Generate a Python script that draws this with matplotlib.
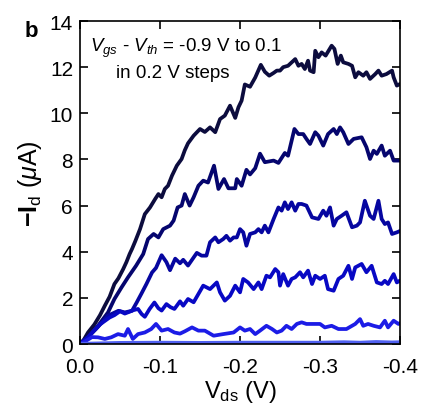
import matplotlib
matplotlib.use("Agg")
import matplotlib.pyplot as plt

plt.rcParams['font.family'] = ['Liberation Sans', 'DejaVu Sans']
plt.rcParams['mathtext.fontset'] = 'custom'
plt.rcParams['mathtext.rm'] = 'Liberation Sans'
plt.rcParams['mathtext.it'] = 'Liberation Sans:italic'
plt.rcParams['mathtext.bf'] = 'Liberation Sans:bold'
plt.rcParams['axes.unicode_minus'] = False

# ---- data: V_ds (V) and -I_d (uA) for each gate step ----
vA = [0, -0.005, -0.01, -0.018, -0.025, -0.031, -0.037, -0.043, -0.048, -0.054, -0.058, -0.062, -0.065,
      -0.069, -0.075, -0.081, -0.0875, -0.094, -0.098, -0.102, -0.106, -0.110, -0.115, -0.121, -0.127,
      -0.131, -0.135, -0.142, -0.150, -0.156, -0.1625, -0.169, -0.175, -0.181, -0.1875, -0.194, -0.198,
      -0.202, -0.206, -0.2125, -0.219, -0.226, -0.231, -0.2365, -0.242, -0.246, -0.25, -0.254, -0.26,
      -0.269, -0.273, -0.277, -0.281, -0.285, -0.2875, -0.292, -0.294, -0.298, -0.302, -0.307, -0.3145,
      -0.318, -0.322, -0.326, -0.329, -0.3355, -0.34, -0.344, -0.348, -0.354, -0.358, -0.3625, -0.369,
      -0.373, -0.377, -0.383, -0.39, -0.392, -0.396, -0.4]
iA = [0, 0.2, 0.5, 0.85, 1.25, 1.66, 2.05, 2.6, 2.85, 3.25, 3.55, 3.9, 4.12,
      4.45, 4.98, 5.63, 5.92, 6.29, 6.5, 6.36, 6.72, 6.86, 7.3, 7.73, 8.02,
      8.4, 8.7, 9.03, 9.32, 9.19, 9.39, 9.18, 9.75, 9.9, 10.33, 9.8, 10.26,
      10.55, 11.25, 11.15, 11.55, 12.1, 11.8, 11.63, 11.75, 11.85, 11.85, 12.0, 12.06,
      12.35, 12.06, 12.14, 11.92, 12.28, 11.85, 11.78, 12.71, 12.43, 12.64, 12.5, 12.93,
      12.79, 12.14, 12.5, 12.21, 12.14, 12.06, 11.56, 11.78, 11.63, 11.78, 11.49, 11.7,
      11.85, 11.63, 11.7, 11.85, 11.56, 11.2, 11.27]

vB = [0, -0.01, -0.0225, -0.035, -0.043, -0.052, -0.06, -0.07, -0.079, -0.085, -0.092, -0.098, -0.104,
      -0.1125, -0.117, -0.122, -0.127, -0.131, -0.137, -0.142, -0.148, -0.154, -0.16, -0.1675, -0.173,
      -0.18, -0.1855, -0.194, -0.196, -0.202, -0.208, -0.2125, -0.219, -0.225, -0.231, -0.242, -0.248,
      -0.256, -0.26, -0.268, -0.273, -0.279, -0.283, -0.2875, -0.294, -0.298, -0.304, -0.31, -0.317,
      -0.321, -0.325, -0.329, -0.3355, -0.342, -0.352, -0.358, -0.3625, -0.367, -0.371, -0.377, -0.381,
      -0.3875, -0.392, -0.4]
iB = [0, 0.3, 0.79, 1.37, 1.95, 2.46, 2.89, 3.39, 3.9, 4.55, 4.77, 4.62, 4.98,
      5.13, 5.35, 5.92, 6.0, 6.5, 6.0, 6.36, 6.86, 7.08, 7.0, 7.73, 6.72,
      7.15, 6.75, 6.75, 7.15, 6.86, 7.55, 7.35, 7.62, 8.25, 7.88, 7.95, 7.85,
      8.28, 8.16, 9.32, 9.1, 9.1, 8.89, 8.67, 9.18, 9.03, 8.6, 9.1, 9.32,
      9.1, 9.39, 9.18, 8.67, 8.89, 8.96, 8.53, 8.02, 8.38, 8.24, 8.6, 8.16,
      8.38, 7.95, 7.95]

vC = [0, -0.01, -0.02, -0.035, -0.048, -0.056, -0.065, -0.071, -0.077, -0.083, -0.09, -0.095, -0.102,
      -0.108, -0.1125, -0.119, -0.125, -0.129, -0.135, -0.146, -0.152, -0.158, -0.1625, -0.169, -0.173,
      -0.179, -0.183, -0.1875, -0.192, -0.196, -0.2, -0.204, -0.208, -0.2125, -0.219, -0.223, -0.227,
      -0.231, -0.2355, -0.242, -0.248, -0.252, -0.256, -0.26, -0.2645, -0.269, -0.273, -0.277, -0.283,
      -0.29, -0.298, -0.304, -0.308, -0.3125, -0.317, -0.321, -0.327, -0.333, -0.34, -0.346, -0.35,
      -0.356, -0.3625, -0.367, -0.373, -0.377, -0.381, -0.385, -0.39, -0.396, -0.4]
iC = [0, 0.3, 0.65, 1.23, 1.44, 1.37, 1.44, 1.81, 2.2, 2.6, 3.1, 3.3, 3.85,
      3.55, 3.2, 3.7, 3.5, 3.65, 3.4, 3.95, 3.83, 3.83, 4.41, 4.62, 4.41,
      4.55, 4.69, 4.48, 4.62, 4.62, 4.98, 4.84, 4.26, 4.77, 4.84, 4.98, 4.84,
      5.13, 4.84, 5.42, 5.92, 5.78, 6.14, 5.85, 6.14, 5.78, 6.07, 6.07, 6.0,
      5.49, 5.42, 5.78, 5.56, 5.92, 5.13, 5.42, 5.56, 5.71, 5.06, 5.13, 5.27,
      6.21, 5.56, 5.42, 6.21, 5.42, 5.2, 5.27, 4.77, 4.84, 4.9]

vD = [0, -0.01, -0.018, -0.025, -0.031, -0.037, -0.043, -0.05, -0.056, -0.062, -0.066, -0.0725, -0.077,
      -0.081, -0.087, -0.093, -0.098, -0.102, -0.108, -0.113, -0.118, -0.125, -0.129, -0.135, -0.142,
      -0.154, -0.1625, -0.171, -0.175, -0.181, -0.1875, -0.194, -0.2, -0.204, -0.21, -0.217, -0.223,
      -0.227, -0.233, -0.2375, -0.244, -0.248, -0.25, -0.254, -0.26, -0.2645, -0.269, -0.275, -0.279,
      -0.285, -0.29, -0.294, -0.3, -0.306, -0.31, -0.317, -0.323, -0.329, -0.3355, -0.34, -0.344,
      -0.352, -0.358, -0.3645, -0.371, -0.377, -0.381, -0.385, -0.392, -0.396, -0.4]
iD = [0, 0.3, 0.6, 0.85, 1.0, 1.15, 1.25, 1.42, 1.32, 1.4, 1.46, 1.52, 1.3,
      1.18, 1.52, 1.8, 1.55, 1.45, 1.73, 1.6, 1.52, 1.85, 1.66, 1.95, 1.81,
      2.53, 2.38, 2.67, 2.24, 1.88, 2.09, 2.53, 2.24, 2.82, 2.67, 2.38, 2.67,
      2.38, 2.96, 2.89, 3.25, 3.11, 2.53, 3.03, 2.53, 2.82, 2.89, 3.11, 2.89,
      3.18, 2.6, 2.96, 2.82, 2.96, 2.38, 2.31, 2.82, 2.96, 3.39, 2.82, 3.32,
      3.47, 3.11, 3.39, 2.67, 2.6, 2.74, 2.6, 3.03, 2.67, 2.75]

vE = [0, -0.008, -0.015, -0.0225, -0.031, -0.039, -0.0475, -0.056, -0.06, -0.066, -0.0725, -0.081, -0.089,
      -0.095, -0.102, -0.11, -0.118, -0.125, -0.131, -0.14, -0.148, -0.156, -0.167, -0.179, -0.192,
      -0.2, -0.206, -0.2125, -0.219, -0.225, -0.233, -0.24, -0.246, -0.252, -0.258, -0.2645, -0.271,
      -0.277, -0.283, -0.292, -0.3, -0.306, -0.3145, -0.323, -0.333, -0.34, -0.344, -0.35, -0.354,
      -0.36, -0.367, -0.375, -0.381, -0.385, -0.392, -0.398, -0.4]
iE = [0, 0.15, 0.3, 0.29, 0.22, 0.29, 0.43, 0.36, 0.65, 0.22, 0.43, 0.5, 0.65,
      0.87, 0.58, 0.65, 0.5, 0.45, 0.55, 0.72, 0.58, 0.58, 0.36, 0.43, 0.5,
      0.72, 0.58, 0.65, 0.43, 0.58, 0.79, 0.65, 0.5, 0.58, 0.79, 0.65, 0.87,
      0.94, 0.87, 0.87, 0.87, 0.72, 0.79, 0.65, 0.65, 0.79, 0.87, 1.08, 0.79,
      0.87, 0.79, 0.72, 1.01, 0.72, 1.01, 0.87, 0.9]

vF = [0, -0.05, -0.1, -0.15, -0.2, -0.25, -0.3, -0.33, -0.35, -0.37, -0.39, -0.4]
iF = [0, 0.04, 0.05, 0.04, 0.05, 0.05, 0.05, 0.07, 0.05, 0.08, 0.06, 0.07]

curves = [(vA, iA), (vB, iB), (vC, iC), (vD, iD), (vE, iE), (vF, iF)]
colors = ['#0c0c3e', '#05056e', '#0606a0', '#0808c4', '#1c1ce6', '#5060f0']
widths = [2.7, 2.7, 2.7, 2.7, 2.7, 3.0]

xticks = [0.0, -0.1, -0.2, -0.3, -0.4]
xticklabels = ['0.0', '-0.1', '-0.2', '-0.3', '-0.4']
yticks = [0, 2, 4, 6, 8, 10, 12, 14]

fig = plt.figure(figsize=(4.29, 4.06), dpi=100)
ax = fig.add_axes([0.1865, 0.1502, 0.746, 0.7956])

for (v, i), c, w in zip(curves, colors, widths):
    ax.plot(v, i, color=c, lw=w, solid_joinstyle='round', solid_capstyle='round')

ax.set_xlim(0, -0.4)
ax.set_ylim(0, 14)
ax.set_xticks(xticks)
ax.set_xticklabels(xticklabels)
ax.set_yticks(yticks)
ax.tick_params(direction='in', top=True, right=True, length=6, width=1.2,
               labelsize=15)
ax.tick_params(axis='x', pad=9)
ax.tick_params(axis='y', pad=5)
for s in ax.spines.values():
    s.set_linewidth(1.2)

ax.set_xlabel(r'V$_\mathrm{ds}$ (V)', fontsize=17, labelpad=2)
ax.set_ylabel(r'$\mathbf{-I}_\mathrm{d}$ ($\mu$A)', fontsize=18, labelpad=4)

ax.text(0.03, 0.918, r'$V_{gs}$ - $V_{th}$ = -0.9 V to 0.1', transform=ax.transAxes,
        fontsize=13.5, ha='left', va='center')
ax.text(0.29, 0.84, 'in 0.2 V steps', transform=ax.transAxes,
        fontsize=13.5, ha='center', va='center')

fig.text(0.072, 0.922, 'b', fontsize=16, fontweight='bold', ha='center', va='center')

fig.savefig('out.png', dpi=100)
